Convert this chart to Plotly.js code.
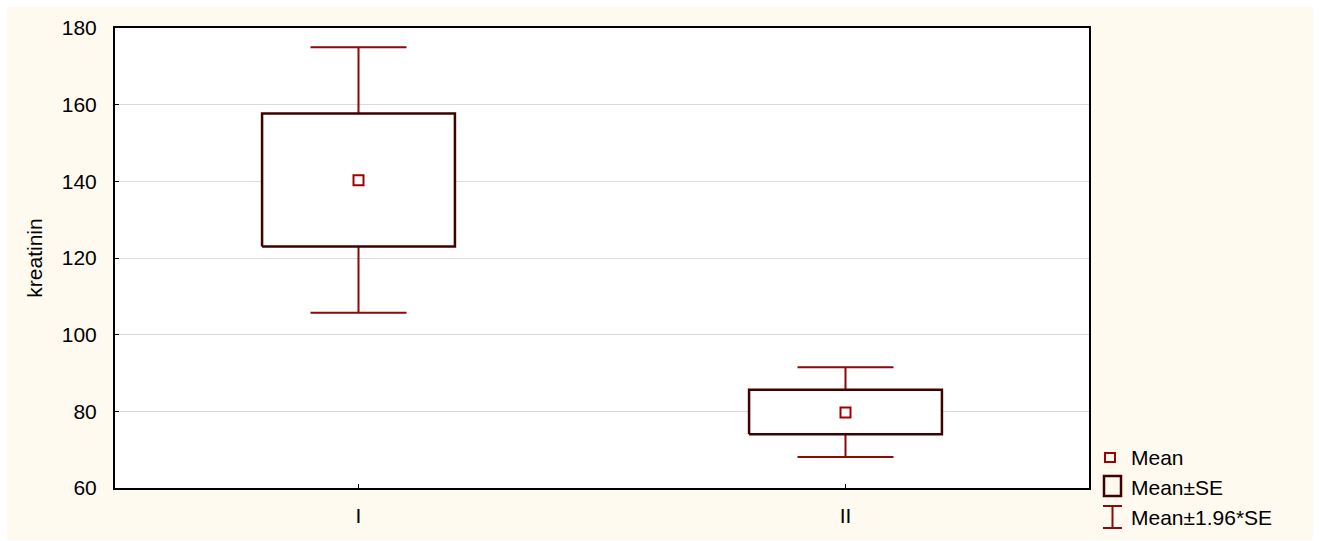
<!DOCTYPE html>
<html>
<head>
<meta charset="utf-8">
<script src="https://cdn.plot.ly/plotly-3.0.1.min.js"></script>
<style>
  html, body { margin: 0; padding: 0; background: #ffffff; }
  #chart { position: absolute; left: 7px; top: 7px; width: 1306px; height: 533px; }
</style>
</head>
<body>
<div id="chart"></div>
<script>
// Data
const categories = ['I', 'II'];
const means   = [140.3, 79.7];
const seUpper = [157.7, 85.6];
const seLower = [123.0, 74.0];
const ciUpper = [175.0, 91.5];
const ciLower = [105.7, 68.1];
const yTicks  = [60, 80, 100, 120, 140, 160, 180];
const legendLabels = ['Mean', 'Mean\u00b1SE', 'Mean\u00b11.96*SE'];

// Styles
const FONT = 'Liberation Sans, Arial, sans-serif';
const BOX_COLOR = '#3f0000';
const ERR_COLOR = '#8c0a0a';
const MEAN_COLOR = '#a00000';
const BOX_HALF = 0.198;

const xIdx = categories.map((c, i) => i);
const traces = [];

// Whiskers (Mean ± 1.96*SE)
traces.push({
  type: 'scatter', mode: 'markers', x: xIdx, y: means,
  marker: { size: 1, opacity: 0 }, showlegend: false, hoverinfo: 'skip',
  error_y: {
    type: 'data', symmetric: false,
    array: ciUpper.map((v, i) => v - means[i]),
    arrayminus: ciLower.map((v, i) => means[i] - v),
    color: ERR_COLOR, thickness: 2, width: 48
  }
});

// Boxes (Mean ± SE)
xIdx.forEach(i => {
  traces.push({
    type: 'scatter', mode: 'lines',
    x: [i - BOX_HALF, i + BOX_HALF, i + BOX_HALF, i - BOX_HALF, i - BOX_HALF],
    y: [seLower[i], seLower[i], seUpper[i], seUpper[i], seLower[i]],
    fill: 'toself', fillcolor: '#ffffff',
    line: { color: BOX_COLOR, width: 2.5 },
    showlegend: false, hoverinfo: 'skip'
  });
});

// Means
traces.push({
  type: 'scatter', mode: 'markers', x: xIdx, y: means,
  marker: { symbol: 'square-open', size: 10, color: MEAN_COLOR, line: { width: 2, color: MEAN_COLOR } },
  showlegend: false
});

// Manual legend (pixel -> paper conversion relative to plot area)
const PL = 115, PR = 1089, PT = 28, PB = 488;
const px = v => (v - PL) / (PR - PL);
const py = v => (PB - v) / (PB - PT);
const shapes = [
  { type: 'rect', xref: 'paper', yref: 'paper', x0: px(1105), x1: px(1115), y0: py(453), y1: py(462),
    line: { color: MEAN_COLOR, width: 2 }, fillcolor: 'rgba(0,0,0,0)' },
  { type: 'rect', xref: 'paper', yref: 'paper', x0: px(1104), x1: px(1121), y0: py(476), y1: py(496),
    line: { color: BOX_COLOR, width: 2.5 }, fillcolor: 'rgba(0,0,0,0)' },
  { type: 'line', xref: 'paper', yref: 'paper', x0: px(1103), x1: px(1122), y0: py(506), y1: py(506),
    line: { color: ERR_COLOR, width: 2 } },
  { type: 'line', xref: 'paper', yref: 'paper', x0: px(1103), x1: px(1122), y0: py(528), y1: py(528),
    line: { color: ERR_COLOR, width: 2 } },
  { type: 'line', xref: 'paper', yref: 'paper', x0: px(1112.5), x1: px(1112.5), y0: py(506), y1: py(528),
    line: { color: ERR_COLOR, width: 2 } }
];
const legendY = [457, 487, 517];
const annotations = legendLabels.map((t, i) => ({
  text: t, xref: 'paper', yref: 'paper', x: px(1129), y: py(legendY[i]),
  xanchor: 'left', yanchor: 'middle', showarrow: false,
  font: { family: FONT, size: 21, color: '#000000' }
}));

const layout = {
  width: 1306, height: 533,
  margin: { l: 108, r: 224, t: 21, b: 52, pad: 0 },
  paper_bgcolor: '#fffaf0',
  plot_bgcolor: '#ffffff',
  showlegend: false,
  font: { family: FONT, size: 21, color: '#000000' },
  xaxis: {
    range: [-0.5, 1.5], tickvals: xIdx, ticktext: categories,
    showgrid: false, zeroline: false,
    showline: true, linecolor: '#000000', linewidth: 2, mirror: true,
    ticks: 'inside', ticklen: 4, tickcolor: '#000000', tickwidth: 1,
    ticklabelstandoff: 8,
    tickfont: { family: FONT, size: 21 }
  },
  yaxis: {
    range: [60, 180], tickvals: yTicks, ticktext: yTicks.map(String),
    showgrid: true, gridcolor: '#dadada', gridwidth: 1, zeroline: false,
    showline: true, linecolor: '#000000', linewidth: 2, mirror: true,
    ticks: 'inside', ticklen: 4, tickcolor: '#000000', tickwidth: 1,
    ticklabelstandoff: 12,
    tickfont: { family: FONT, size: 21 },
    title: { text: 'kreatinin', font: { family: FONT, size: 21 }, standoff: 13 }
  },
  shapes: shapes,
  annotations: annotations
};

Plotly.newPlot('chart', traces, layout, { displayModeBar: false, staticPlot: true });
</script>
</body>
</html>
